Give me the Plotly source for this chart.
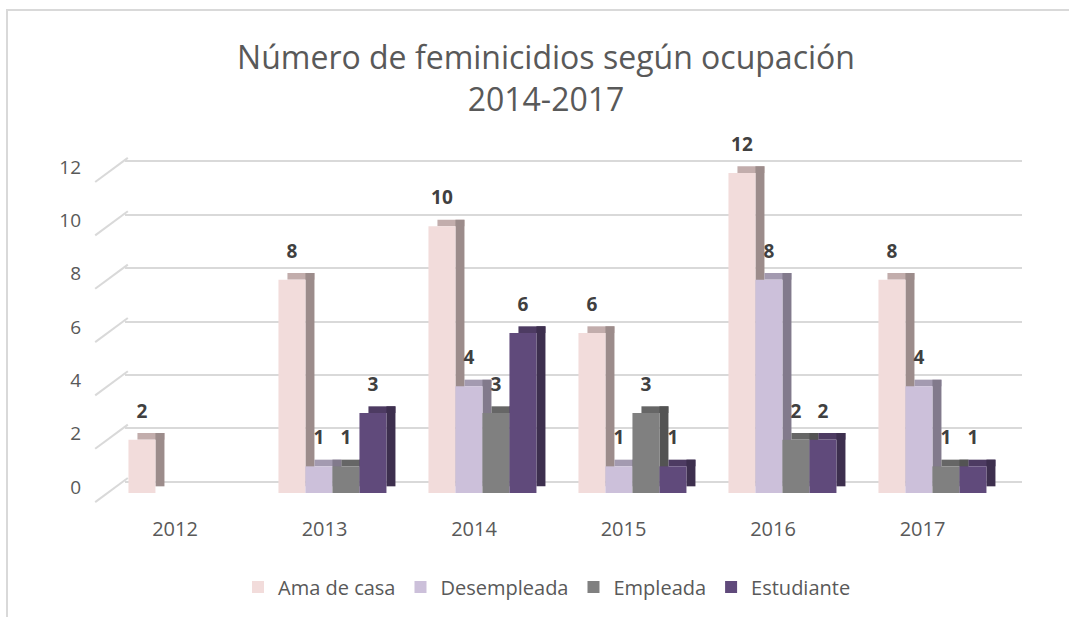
import plotly.graph_objects as go

years = ["2012", "2013", "2014", "2015", "2016", "2017"]
ama_de_casa = [2, 8, 10, 6, 12, 8]
desempleada = [None, 1, 4, 1, 8, 4]
empleada = [None, 1, 3, 3, 2, 1]
estudiante = [None, 3, 6, 1, 2, 1]
y_ticks = [0, 2, 4, 6, 8, 10, 12]

series = [
    ("Ama de casa", ama_de_casa, "#F2DCDB", "#C2ADAC", "#9C8C8B"),
    ("Desempleada", desempleada, "#CCC0DA", "#A39AB0", "#827A8C"),
    ("Empleada", empleada, "#808080", "#666666", "#535353"),
    ("Estudiante", estudiante, "#604A7B", "#4D3B62", "#3D2F4E"),
]

W, H = 1069, 617
PXU = 26.67            # pixels per value unit
bar_w = 0.18           # in category units (150 px per category)
dx = 0.06
dy = 0.25
wall_shift = 0.43      # back-wall gridlines sit higher than bar faces
idx = list(range(len(years)))

fig = go.Figure()
for i, (name, vals, front, top, side) in enumerate(series):
    off = -0.36 + bar_w * i
    xs = [k for k, v in zip(idx, vals) if v is not None]
    vs = [v for v in vals if v is not None]
    fig.add_trace(go.Bar(x=xs, y=[dy] * len(vs), base=vs, offset=off + dx, width=bar_w,
                         marker=dict(color=top, line=dict(width=0)), showlegend=False,
                         hoverinfo="skip"))
    fig.add_trace(go.Bar(x=xs, y=vs, base=[dy] * len(vs), offset=off + bar_w, width=dx,
                         marker=dict(color=side, line=dict(width=0)), showlegend=False,
                         hoverinfo="skip"))
    fig.add_trace(go.Bar(x=xs, y=vs, offset=off, width=bar_w, name=name,
                         marker=dict(color=front, line=dict(width=0))))

for i, (name, vals, front, top, side) in enumerate(series):
    off = -0.36 + bar_w * i
    xs = [k + off + bar_w / 2 for k, v in zip(idx, vals) if v is not None]
    vs = [v for v in vals if v is not None]
    fig.add_trace(go.Scatter(x=xs, y=vs, mode="markers+text", text=[str(v) for v in vs],
                             textposition="top center",
                             textfont=dict(family="Open Sans", size=19, color="#404040",
                                           weight="bold"),
                             marker=dict(size=26, opacity=0), showlegend=False,
                             hoverinfo="skip", cliponaxis=False))

# side-wall diagonals of the gridlines, one per tick value (rotated line markers on the
# full-width label axis so they are not clipped)
x2_lo = -175 / 149.5
x2_hi = (W - 175) / 149.5
fig.add_trace(go.Scatter(x=[(111.5 - 175) / 149.5] * len(y_ticks),
                         y=[t + wall_shift - 8.5 / PXU for t in y_ticks],
                         xaxis="x2", yaxis="y", mode="markers",
                         marker=dict(symbol="line-ew", size=29, angle=-36.5,
                                     color="#D9D9D9",
                                     line=dict(color="#D9D9D9", width=2)),
                         showlegend=False, hoverinfo="skip", cliponaxis=False))

xr0 = -0.383
y_bot_px = 493
y_max = 13
y_top_px = y_bot_px - PXU * y_max
fig.update_layout(
    width=W, height=H, autosize=False,
    margin=dict(l=0, r=0, t=0, b=0, autoexpand=False),
    paper_bgcolor="white", plot_bgcolor="rgba(0,0,0,0)",
    barmode="overlay",
    font=dict(family="Open Sans", color="#595959"),
    title=dict(text="Número de feminicidios según ocupación<br>2014-2017",
               x=546 / W, xanchor="center", y=1 - 69 / H, yanchor="middle",
               font=dict(family="Open Sans", size=32, color="#595959")),
    xaxis=dict(range=[xr0, 5.597], domain=[125 / W, 1022 / W], showticklabels=False,
               showgrid=False, zeroline=False, showline=False, fixedrange=True),
    xaxis2=dict(range=[x2_lo, x2_hi], domain=[0, 1], tickvals=idx,
                ticktext=years, anchor="free", position=(H - 515) / H, showgrid=False,
                zeroline=False, showline=False, tickfont=dict(size=20, color="#595959")),
    yaxis=dict(range=[0, y_max], domain=[(H - y_bot_px) / H, (H - y_top_px) / H],
               tickvals=y_ticks, anchor="free", position=81 / W, showgrid=False,
               zeroline=False, showline=False, ticklabelshift=-6,
               tickfont=dict(size=19, color="#595959")),
    yaxis2=dict(range=[-wall_shift, y_max - wall_shift], overlaying="y", anchor="x",
                tickvals=y_ticks, showticklabels=False, showgrid=True,
                gridcolor="#D9D9D9", gridwidth=2, zeroline=False, showline=False),
    legend=dict(orientation="h", x=547 / W, xanchor="center", y=(H - 587) / H,
                yanchor="middle", font=dict(size=20, color="#595959"),
                itemwidth=30, traceorder="normal"),
    shapes=[dict(type="rect", xref="paper", yref="paper", x0=7 / W, x1=1.05,
                 y0=-0.05, y1=1 - 10 / H, line=dict(color="#D9D9D9", width=2),
                 fillcolor="rgba(0,0,0,0)", layer="below")],
)

# dummy trace on the grid axis so it is always drawn
fig.add_trace(go.Scatter(x=idx, y=ama_de_casa, xaxis="x", yaxis="y2", mode="markers",
                         marker=dict(opacity=0), showlegend=False, hoverinfo="skip"))

post = (
    "var d=document.getElementById('{plot_id}');"
    "d.style.position='absolute';d.style.left='0px';d.style.top='0px';"
    "document.body.style.margin='0';document.body.style.padding='0';"
    "document.documentElement.style.overflow='hidden';document.body.style.overflow='hidden';"
)
fig.write_html("out.html",
               config={"responsive": False, "displayModeBar": False},
               post_script=post)
